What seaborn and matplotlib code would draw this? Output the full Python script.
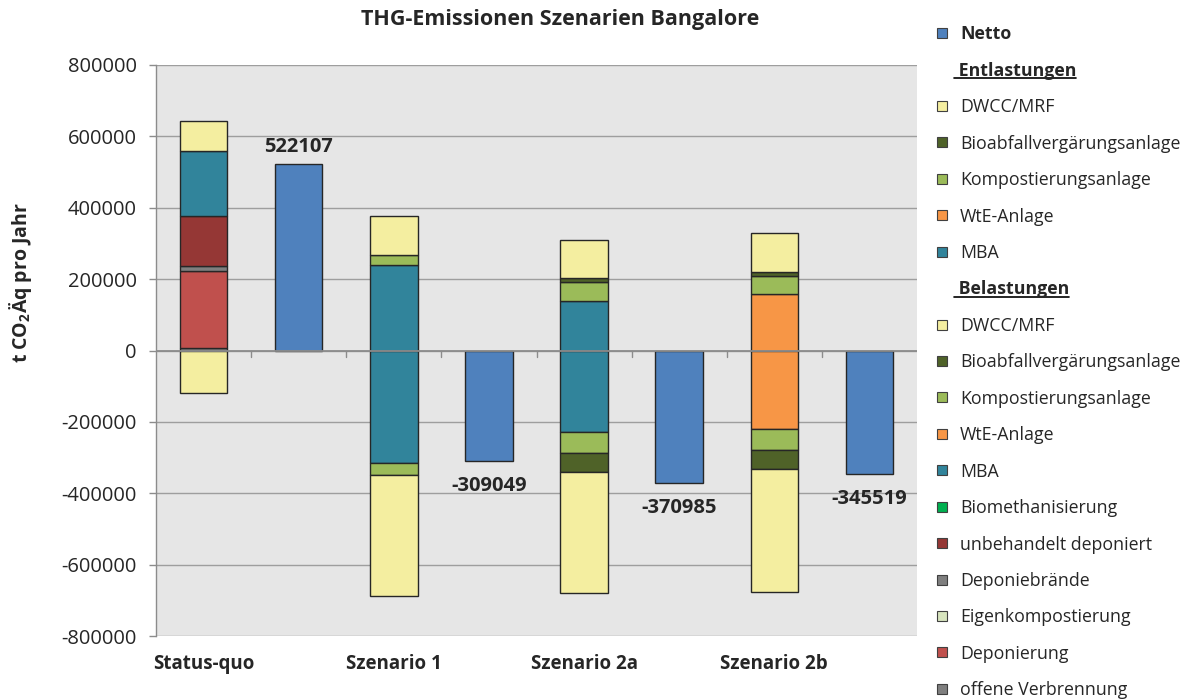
import numpy as np
import pandas as pd
import matplotlib
matplotlib.use("Agg")
import matplotlib.pyplot as plt
import seaborn as sns
from matplotlib.patches import Rectangle
from matplotlib.lines import Line2D
from matplotlib.ticker import FuncFormatter

# ---------------- data ----------------
scenarios = ["Status-quo", "Szenario 1", "Szenario 2a", "Szenario 2b"]
netto = [522107, -309049, -370985, -345519]

# Entlastungen (negative)
ent_dwcc = [-120000, -339049, -338985, -342519]
ent_bio = [0, 0, -53000, -53000]
ent_kompost = [0, -33000, -60000, -60000]
ent_wte = [0, 0, 0, -220000]
ent_mba = [0, -315000, -228000, 0]

# Belastungen (positive)
bel_dwcc = [82107, 110000, 106000, 110000]
bel_bio = [0, 0, 11000, 10000]
bel_kompost = [0, 28000, 54000, 53000]
bel_wte = [0, 0, 0, 157000]
bel_mba = [182000, 240000, 138000, 0]
bel_biometh = [0, 0, 0, 0]
bel_unbeh = [142000, 0, 0, 0]
bel_depbr = [12000, 0, 0, 0]
bel_eigenk = [0, 0, 0, 0]
bel_depon = [217000, 0, 0, 0]
bel_offen = [7000, 0, 0, 0]

y_ticks = [-800000, -600000, -400000, -200000, 0, 200000, 400000, 600000, 800000]

title = "THG-Emissionen Szenarien Bangalore"
ylabel = r"t CO$_\mathbf{2}$Äq pro Jahr"

legend_labels = ["Netto", " Entlastungen", "DWCC/MRF", "Bioabfallvergärungsanlage",
                 "Kompostierungsanlage", "WtE-Anlage", "MBA", " Belastungen",
                 "DWCC/MRF", "Bioabfallvergärungsanlage", "Kompostierungsanlage",
                 "WtE-Anlage", "MBA", "Biomethanisierung", "unbehandelt deponiert",
                 "Deponiebrände", "Eigenkompostierung", "Deponierung", "offene Verbrennung"]

# ---------------- colours ----------------
c_netto = "#4F81BD"
c_dwcc = "#F4EEA0"
c_bio = "#4F6228"
c_kompost = "#9BBB59"
c_wte = "#F79646"
c_mba = "#31849B"
c_biometh = "#00B050"
c_unbeh = "#953735"
c_depbr = "#7F7F7F"
c_eigenk = "#D7E4BD"
c_depon = "#C0504D"
c_offen = "#7F7F7F"
edge = "#262626"

legend_colors = [c_netto, None, c_dwcc, c_bio, c_kompost, c_wte, c_mba, None,
                 c_dwcc, c_bio, c_kompost, c_wte, c_mba, c_biometh, c_unbeh,
                 c_depbr, c_eigenk, c_depon, c_offen]

# ---------------- style ----------------
sns.set_style("white", {"axes.facecolor": "#E6E6E6"})
plt.rcParams["font.family"] = ["Open Sans", "DejaVu Sans"]
plt.rcParams["axes.unicode_minus"] = False
plt.rcParams["mathtext.fontset"] = "custom"
plt.rcParams["mathtext.rm"] = "Open Sans"
plt.rcParams["mathtext.bf"] = "Open Sans:bold"

W, H = 1184, 700
fig = plt.figure(figsize=(W / 100, H / 100), dpi=100)
ax = fig.add_axes([156 / W, 1 - 636 / H, (917 - 156) / W, (636 - 65) / H])

slots = []
for s in scenarios:
    slots += [s, s + " Netto"]
stack_idx = np.arange(0, 8, 2)
net_idx = np.arange(1, 8, 2)


def draw(values, color, bottoms, idx):
    vals = np.asarray(values, float)
    mask = vals != 0
    if not mask.any():
        return
    names = [slots[i] for i in np.asarray(idx)[mask]]
    df = pd.DataFrame({"slot": names, "val": vals[mask]})
    sns.barplot(data=df, x="slot", y="val", order=slots, color=color,
                bottom=np.asarray(bottoms, float)[mask], width=0.5,
                edgecolor=edge, linewidth=1, errorbar=None, saturation=1,
                ax=ax, zorder=3)


pos_stack = [(bel_offen, c_offen), (bel_depon, c_depon), (bel_eigenk, c_eigenk),
             (bel_depbr, c_depbr), (bel_unbeh, c_unbeh), (bel_biometh, c_biometh),
             (bel_mba, c_mba), (bel_wte, c_wte), (bel_kompost, c_kompost),
             (bel_bio, c_bio), (bel_dwcc, c_dwcc)]
neg_stack = [(ent_mba, c_mba), (ent_wte, c_wte), (ent_kompost, c_kompost),
             (ent_bio, c_bio), (ent_dwcc, c_dwcc)]

bottom = np.zeros(4)
for vals, col in pos_stack:
    draw(vals, col, bottom, stack_idx)
    bottom = bottom + np.asarray(vals, float)
bottom = np.zeros(4)
for vals, col in neg_stack:
    draw(vals, col, bottom, stack_idx)
    bottom = bottom + np.asarray(vals, float)

draw(netto, c_netto, np.zeros(4), net_idx)

# data labels
for i, v in zip(net_idx, netto):
    if v >= 0:
        ax.annotate(f"{v}", (i, v), xytext=(0, 5), textcoords="offset points",
                    ha="center", va="bottom", fontsize=14.5, fontweight="bold")
    else:
        ax.annotate(f"{v}", (i, v), xytext=(0, -11), textcoords="offset points",
                    ha="center", va="top", fontsize=14.5, fontweight="bold")

# axes formatting
ax.set_xlim(-0.5, 7.5)
ax.set_ylim(-800000, 800000)
ax.set_yticks(y_ticks)
ax.yaxis.set_major_formatter(FuncFormatter(lambda v, p: f"{int(v)}"))
ax.set_xticks(range(8))
ax.set_xticklabels([s if i % 2 == 0 else "" for i, s in enumerate(
    [x for s in scenarios for x in (s, "")])], fontweight="bold", fontsize=13.5)
ax.set_xlabel("")
ax.set_ylabel("")
ax.tick_params(axis="x", length=0, pad=13)
ax.tick_params(axis="y", length=5, width=1, color="#8C8C8C", pad=9, labelsize=14.5,
               direction="out", left=True)
ax.grid(False)
for yv in y_ticks:
    ax.axhline(yv, color="#9E9E9E", lw=1, zorder=1)
ax.axhline(0, color="#8C8C8C", lw=1.3, zorder=4)
for b in np.arange(0.5, 7.0, 1.0):
    ax.plot([b, b], [0, -17000], color="#8C8C8C", lw=1, zorder=4)
for sp in ["top", "right", "bottom"]:
    ax.spines[sp].set_visible(False)
ax.spines["left"].set_color("#8C8C8C")
ax.spines["left"].set_linewidth(1)

# title and y label
fig.text(560 / W, 1 - 20 / H, title, ha="center", va="center", fontsize=15.5,
         fontweight="bold")
fig.text(21 / W, 1 - 283 / H, ylabel, ha="center", va="center", rotation=90,
         fontsize=14, fontweight="bold")

# legend (manual)
fs = 12.8
cap = 0.714 * fs * 100 / 72
headers = []
for i, (lab, col) in enumerate(zip(legend_labels, legend_colors)):
    yc = 33 + i * 36.44
    if col is not None:
        fig.patches.append(Rectangle((937 / W, 1 - (yc + 5) / H), 10 / W, 10 / H,
                                     transform=fig.transFigure, facecolor=col,
                                     edgecolor="#404040", linewidth=0.8))
        fw = "bold" if lab == "Netto" else "normal"
        fig.text(960 / W, 1 - (yc + cap / 2) / H, lab, ha="left", va="baseline",
                 fontsize=fs, fontweight=fw)
    else:
        t = fig.text(954 / W, 1 - (yc + cap / 2) / H, lab, ha="left",
                     va="baseline", fontsize=fs, fontweight="bold")
        headers.append((t, yc))

fig.canvas.draw()
r = fig.canvas.get_renderer()
for t, yc in headers:
    bb = t.get_window_extent(r)
    yl = 1 - (yc + cap / 2 + 2.5) / H
    fig.lines.append(Line2D([bb.x0 / W, bb.x1 / W], [yl, yl], transform=fig.transFigure,
                            color="black", lw=1.2))

fig.savefig("out.png", dpi=100, facecolor="white")
